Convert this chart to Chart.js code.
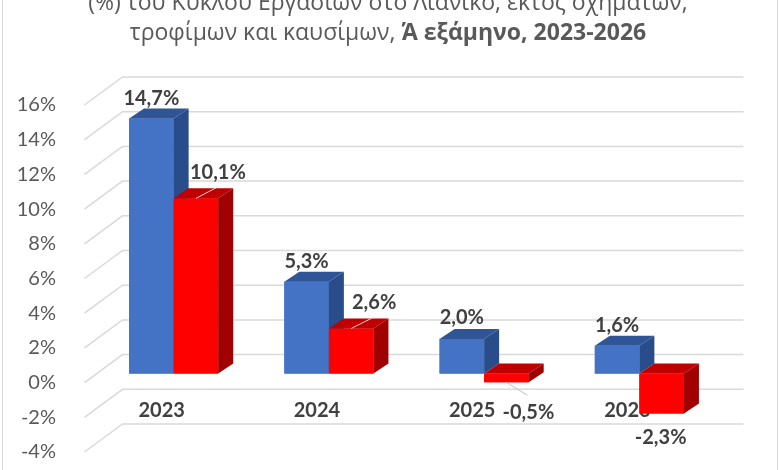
<!DOCTYPE html>
<html>
<head>
<meta charset="utf-8">
<script src="https://cdn.jsdelivr.net/npm/chart.js@4.4.1/dist/chart.umd.min.js"></script>
<style>
body{margin:0;background:#fff;}
#wrap{position:relative;width:780px;height:470px;overflow:hidden;}
#frame{position:absolute;left:2px;top:-5px;width:776px;height:490px;border:1px solid #d9d9d9;box-sizing:border-box;}
#title{position:absolute;left:0;top:-14px;width:776px;text-align:center;font-family:"Open Sans";font-size:23px;line-height:30px;color:#595959;white-space:nowrap;}
canvas{position:absolute;left:0;top:0;}
</style>
</head>
<body>
<div id="wrap">
<div id="frame"></div>
<canvas id="myChart" width="780" height="470"></canvas>
<div id="title">(%) του Κύκλου Εργασιών στο Λιανικό, εκτός οχημάτων,<br>τροφίμων και καυσίμων, <b>Ά εξάμηνο, 2023-2026</b></div>
</div>
<script>
// values
const years = ["2023", "2024", "2025", "2026"];
const blueValues = [14.7, 5.3, 2.0, 1.6];
const redValues = [10.1, 2.6, -0.5, -2.3];
const yMin = -4, yMax = 16, yStep = 2;

// fake 3d: depth of the boxes and the back wall
const depth = {dx: 15, dy: -10};
const faceColors = [
    {front: '#4472C4', top: '#2F5597', side: '#294C8B'},
    {front: '#FF0000', top: '#C00000', side: '#A00000'}
];
// where each value label sits, from the end of its bar (dx, dy, leader line)
const labelShift = [
    [[0, -20, 0], [0, -20, 0], [0, -21, 0], [0, -20, 0]],
    [[22, -26, 1], [23, -26, 1], [22, 30, 1], [-1, 24, 0]]
];

const fmt = v => v.toFixed(1).replace('.', ',') + '%';

const box3d = {
    id: 'box3d',
    beforeDatasetsDraw(chart) {
        const ctx = chart.ctx, y = chart.scales.y, area = chart.chartArea;
        ctx.save();
        ctx.strokeStyle = '#d9d9d9';
        ctx.lineWidth = 1.5;
        y.ticks.forEach(t => {
            const py = y.getPixelForValue(t.value);
            ctx.beginPath();
            ctx.moveTo(area.left - 11.5, py + 9);
            ctx.lineTo(area.left + 26.5, py - 19);
            ctx.lineTo(area.right + 26.5, py - 19);
            ctx.stroke();
        });
        ctx.restore();
    },
    afterDatasetsDraw(chart) {
        const ctx = chart.ctx;
        const metas = chart.data.datasets.map((ds, di) => chart.getDatasetMeta(di));
        ctx.save();
        // boxes, category by category, blue first so red covers its side
        years.forEach((yr, i) => {
            metas.forEach((meta, di) => {
                const c = faceColors[di];
                const p = meta.data[i].getProps(['x', 'y', 'base', 'width'], true);
                const l = p.x - p.width / 2, r = p.x + p.width / 2;
                const top = Math.min(p.y, p.base), bot = Math.max(p.y, p.base);
                ctx.fillStyle = c.front;
                ctx.fillRect(l, top, r - l, bot - top);
                ctx.fillStyle = c.top;
                ctx.beginPath();
                ctx.moveTo(l, top);
                ctx.lineTo(r, top);
                ctx.lineTo(r + depth.dx, top + depth.dy);
                ctx.lineTo(l + depth.dx, top + depth.dy);
                ctx.closePath();
                ctx.fill();
                ctx.fillStyle = c.side;
                ctx.beginPath();
                ctx.moveTo(r, top);
                ctx.lineTo(r + depth.dx, top + depth.dy);
                ctx.lineTo(r + depth.dx, bot + depth.dy);
                ctx.lineTo(r, bot);
                ctx.closePath();
                ctx.fill();
            });
        });
        // value labels
        ctx.font = 'bold 20px Lato';
        ctx.textAlign = 'center';
        ctx.textBaseline = 'middle';
        chart.data.datasets.forEach((ds, di) => {
            metas[di].data.forEach((bar, i) => {
                const s = labelShift[di][i];
                const lx = bar.x + s[0], ly = bar.y + s[1];
                if (s[2]) {
                    ctx.strokeStyle = ds.data[i] > 0 ? '#eecccc' : '#bfbfbf';
                    ctx.lineWidth = 1;
                    ctx.beginPath();
                    ctx.moveTo(bar.x, bar.y);
                    ctx.lineTo(lx - 1, ly + (s[1] < 0 ? 15 : -17));
                    ctx.stroke();
                }
                ctx.fillStyle = '#404040';
                ctx.fillText(fmt(ds.data[i]), lx, ly);
            });
        });
        ctx.restore();
    }
};

new Chart(document.getElementById('myChart'), {
    type: 'bar',
    data: {
        labels: years,
        datasets: [
            {label: 'Σειρά 1', data: blueValues, backgroundColor: faceColors[0].front},
            {label: 'Σειρά 2', data: redValues, backgroundColor: faceColors[1].front}
        ]
    },
    options: {
        responsive: false,
        animation: false,
        layout: {padding: {left: 0, right: 63, top: 96, bottom: 27}},
        datasets: {bar: {categoryPercentage: 0.574, barPercentage: 1, borderWidth: 0}},
        plugins: {legend: {display: false}, tooltip: {enabled: false}},
        scales: {
            x: {
                position: {y: 0},
                grid: {display: false},
                border: {display: false},
                ticks: {
                    padding: 17,
                    labelOffset: -12,
                    maxRotation: 0,
                    color: '#404040',
                    font: {family: 'Lato', size: 20, weight: 'bold'}
                }
            },
            y: {
                min: yMin,
                max: yMax,
                grid: {display: false},
                border: {display: false},
                // the tick padding would otherwise eat the bottom of the plot
                afterFit: s => { s.width = 96; s.paddingTop = 0; s.paddingBottom = 0; },
                ticks: {
                    stepSize: yStep,
                    padding: 32,
                    labelOffset: 9,
                    color: '#595959',
                    font: {family: 'Lato', size: 20},
                    callback: v => v + '%'
                }
            }
        }
    },
    plugins: [box3d]
});
</script>
</body>
</html>
